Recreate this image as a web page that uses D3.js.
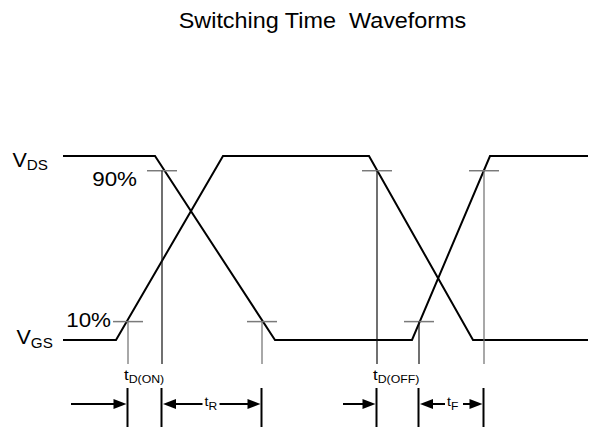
<!DOCTYPE html>
<html>
<head>
<meta charset="utf-8">
<script src="https://cdn.jsdelivr.net/npm/d3@7"></script>
<style>
	body { margin: 0; background: #fff; }
	text { font-family: Arial, "Liberation Sans", sans-serif; fill: #000; white-space: pre; }
</style>
</head>
<body>
<svg id="chart" width="590" height="431"></svg>
<script>
const totalWidth = 590;
const totalHeight = 431;

// waveform corners: time (arbitrary units) and level (0 = low, 1 = high)
const vdsTimes = [0, 92, 212, 349, 427, 525];
const vdsLevels = [1, 1, 0, 0, 1, 1];
const vgsTimes = [0, 53, 160, 306, 410, 525];
const vgsLevels = [0, 0, 1, 1, 0, 0];

// measurement points where the 10% / 90% levels are crossed
const markTimes = [65, 99, 199, 314, 356, 421];
const markLevels = [0.1, 0.92, 0.1, 0.92, 0.1, 0.92];

// intervals between the measurement points
const delayNames = ["D(ON)", "D(OFF)"];
const delayMarks = [0, 3];
const edgeNames = ["R", "F"];
const edgeMarks = [[1, 2], [4, 5]];

const levelLabels = ["90%", "10%"];
const signalNames = ["DS", "GS"];

const x = d3.scaleLinear().domain([0, 525]).range([63, 588]);
const y = d3.scaleLinear().domain([0, 1]).range([340, 156]);

const arrowY = 404;
const barTop = 388;
const barBottom = 427;
const guideBottom = 364;

const svg = d3.select("#chart");

function label(parent, px, py, main, sub, size, subSize, sx, dy, anchor) {
	const t = parent
		.append("text")
		.attr("xml:space", "preserve")
		.attr("transform", `translate(${px},${py}) scale(${sx},1)`)
		.attr("font-size", size)
		.attr("text-anchor", anchor || "start");
	t.append("tspan").text(main);
	if (sub) t.append("tspan").attr("font-size", subSize).attr("dy", dy).text(sub);
	return t;
}

function arrow(parent, from, to) {
	const dir = Math.sign(to - from);
	parent
		.append("line")
		.attr("x1", from)
		.attr("x2", to - dir * 10)
		.attr("y1", arrowY)
		.attr("y2", arrowY)
		.attr("stroke", "#000")
		.attr("stroke-width", 2);
	parent
		.append("path")
		.attr("d", `M${to},${arrowY}L${to - dir * 13},${arrowY - 5}L${to - dir * 13},${arrowY + 5}Z`)
		.attr("fill", "#000");
}

// title
label(svg, 322.5, 28, "Switching Time  Waveforms", null, 22.5, 0, 1.04, 0, "middle");

// waveforms
const line = d3
	.line()
	.x((d) => x(d[0]))
	.y((d) => y(d[1]));

for (const [times, levels] of [[vdsTimes, vdsLevels], [vgsTimes, vgsLevels]]) {
	svg
		.append("path")
		.datum(d3.zip(times, levels))
		.attr("fill", "none")
		.attr("stroke", "#000")
		.attr("stroke-width", 2)
		.attr("stroke-linejoin", "miter")
		.attr("d", line);
}

// signal names
label(svg, 12.5, 166.5, "V", signalNames[0], 20.5, 14.5, 1.05, 3.5);
label(svg, 16.5, 344, "V", signalNames[1], 20.5, 14.5, 1.05, 3.5);

// level names
label(svg, 137, 185.5, levelLabels[0], null, 20, 0, 1.12, 0, "end");
label(svg, 111, 327, levelLabels[1], null, 20, 0, 1.12, 0, "end");

// level ticks and guide lines
const darkGuides = new Set([1, 3, 4]);
markTimes.forEach((t, i) => {
	svg
		.append("line")
		.attr("x1", x(t) - 15)
		.attr("x2", x(t) + 15)
		.attr("y1", y(markLevels[i]))
		.attr("y2", y(markLevels[i]))
		.attr("stroke", "#7a7a7a")
		.attr("stroke-width", 1.5);
	svg
		.append("line")
		.attr("x1", x(t))
		.attr("x2", x(t))
		.attr("y1", y(markLevels[i]))
		.attr("y2", guideBottom)
		.attr("stroke", darkGuides.has(i) ? "#111" : "#6e6e6e")
		.attr("stroke-width", 1.2);
	svg
		.append("line")
		.attr("x1", x(t) - 0.5)
		.attr("x2", x(t) - 0.5)
		.attr("y1", barTop)
		.attr("y2", barBottom)
		.attr("stroke", "#000")
		.attr("stroke-width", 2);
});

// delay times: label above, arrow from the left
delayNames.forEach((name, i) => {
	const px = x(markTimes[delayMarks[i]]);
	label(svg, px - 4, 380, "t", name, 15, 11, 1.12, 3);
	arrow(svg, px - (i === 0 ? 57 : 34), px - 1.5);
});

// rise / fall times: label sits in the middle of a double arrow
edgeNames.forEach((name, i) => {
	const a = x(markTimes[edgeMarks[i][0]]);
	const b = x(markTimes[edgeMarks[i][1]]);
	const mid = i === 0 ? 211 : 454;
	const half = i === 0 ? 8.5 : 9;
	arrow(svg, mid - half, a + 1);
	arrow(svg, mid + half, b - 1.5);
	label(svg, mid - half + 2, 406, "t", name, 13.5, 11.5, 1.05, 4);
});
</script>
</body>
</html>
